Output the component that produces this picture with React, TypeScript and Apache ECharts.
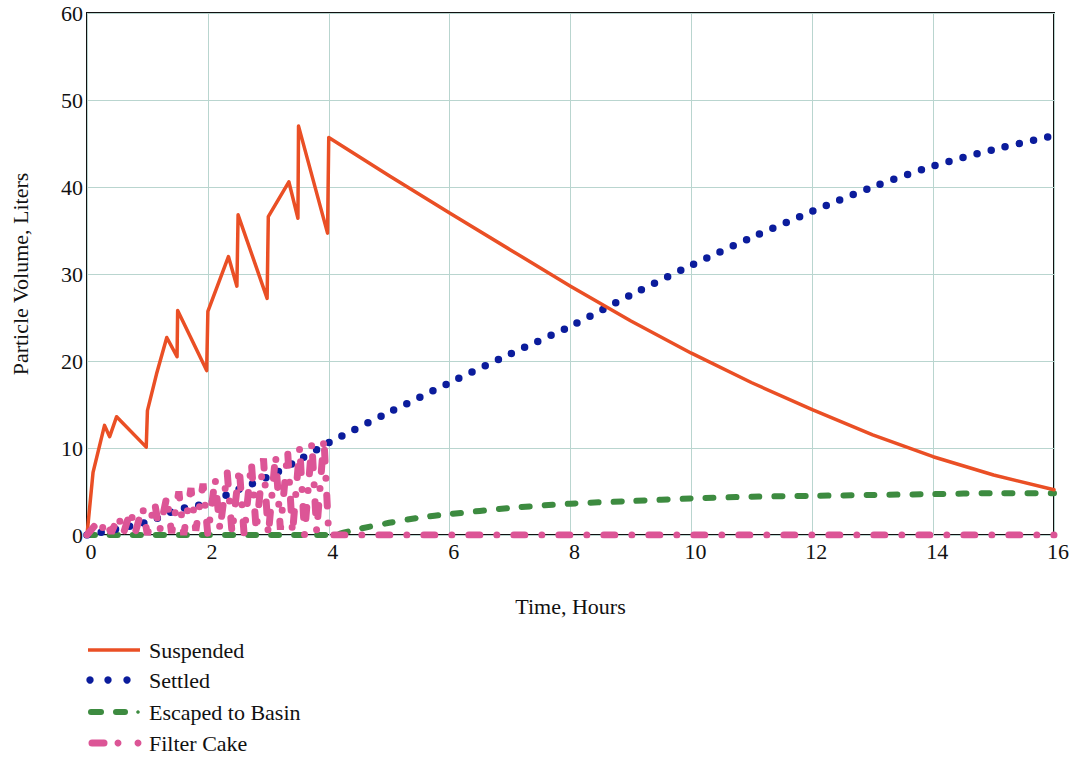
import React, { useEffect, useRef } from "react";
import * as echarts from "echarts";

// ---- data ----
const xTicks = [0, 2, 4, 6, 8, 10, 12, 14, 16];
const yTicks = [0, 10, 20, 30, 40, 50, 60];

const suspendedT = [0, 0.1, 0.29, 0.375, 0.49, 0.98, 1.0, 1.15, 1.32, 1.49, 1.5, 1.98, 2.0, 2.34, 2.48, 2.5, 2.98, 3.0, 3.34, 3.49, 3.5, 3.98, 4.0, 5, 6, 7, 8, 9, 10, 11, 12, 13, 14, 15, 16];
const suspendedV = [0, 7.2, 12.6, 11.3, 13.6, 10.1, 14.3, 18.5, 22.7, 20.5, 25.8, 18.9, 25.7, 32.0, 28.6, 36.8, 27.2, 36.6, 40.6, 36.4, 47.0, 34.7, 45.7, 41.3, 37.0, 32.8, 28.6, 24.6, 20.9, 17.5, 14.4, 11.5, 9.0, 6.9, 5.2];

const settledT = [0, 0.5, 1, 1.5, 2, 2.5, 3, 3.5, 4, 5, 6, 7, 8, 9, 10, 11, 12, 13, 14, 15, 16];
const settledV = [0, 0.7, 1.5, 2.9, 3.7, 5.2, 6.7, 8.6, 10.6, 14.1, 17.5, 20.8, 24.0, 27.6, 31.0, 34.2, 37.2, 40.0, 42.4, 44.3, 45.9];

const escapedT = [0, 4.0, 4.5, 5, 5.5, 6, 7, 8, 9, 10, 11, 12, 13, 14, 15, 16];
const escapedV = [0, 0, 0.7, 1.4, 2.0, 2.4, 3.1, 3.6, 3.9, 4.2, 4.4, 4.5, 4.6, 4.7, 4.8, 4.8];

const filterT = [0, 0.12, 0.2, 0.32, 0.4, 0.52, 0.6, 0.72, 0.8, 0.92, 1.0, 1.12, 1.2, 1.32, 1.4, 1.52, 1.6, 1.72, 1.8, 1.92, 2.0, 2.12, 2.2, 2.32, 2.4, 2.52, 2.6, 2.72, 2.8, 2.92, 3.0, 3.12, 3.2, 3.32, 3.4, 3.52, 3.6, 3.72, 3.8, 3.92, 4.0, 16];
const filterV = [0, 1.0, 0.1, 1.6, 0.2, 2.2, 0.1, 2.8, 0.3, 3.2, 0, 3.7, 0.4, 4.4, 0.2, 5.0, 0, 5.4, 0.5, 5.9, 0, 6.5, 0.6, 7.2, 0.2, 7.7, 0, 8.3, 0.5, 8.8, 0, 9.2, 0.6, 9.6, 0.2, 10.1, 0, 10.6, 0.4, 11.1, 0, 0];

const seriesNames = ["Suspended", "Settled", "Escaped to Basin", "Filter Cake"];
const xTitle = "Time, Hours";
const yTitle = "Particle Volume, Liters";

const pairs = (t: number[], v: number[]) => t.map((x, i) => [x, v[i]]);

const FONT = "'Liberation Serif', 'Times New Roman', serif";
const C_ORANGE = "#ea4f25";
const C_BLUE = "#0b1c9c";
const C_GREEN = "#3d8b40";
const C_PINK = "#dc5596";

export default function App() {
  const ref = useRef<HTMLDivElement>(null);

  useEffect(() => {
    if (!ref.current) return;
    const chart = echarts.init(ref.current, null, { renderer: "svg" });

    const legendRows = [650, 680, 712, 743];
    const legendText = seriesNames.map((n, i) => ({
      type: "text",
      x: 149,
      y: legendRows[i],
      style: { text: n, fontFamily: FONT, fontSize: 22, fill: "#111", verticalAlign: "middle" },
    }));

    const option: any = {
      animation: false,
      backgroundColor: "#fff",
      textStyle: { fontFamily: FONT },
      grid: {
        left: 87,
        right: 25,
        top: 13,
        bottom: 224,
        show: true,
        borderColor: "#111",
        borderWidth: 2,
        backgroundColor: "transparent",
      },
      xAxis: {
        type: "value",
        min: xTicks[0],
        max: xTicks[xTicks.length - 1],
        interval: 2,
        name: xTitle,
        nameLocation: "middle",
        nameGap: 60,
        nameTextStyle: { fontFamily: FONT, fontSize: 22, color: "#111" },
        axisLine: { show: false },
        axisTick: { show: false },
        axisLabel: { fontFamily: FONT, fontSize: 22, color: "#111", margin: 5, padding: [0, 0, 0, 8] },
        splitLine: { show: true, lineStyle: { color: "#b9d5cf", width: 1 } },
      },
      yAxis: {
        type: "value",
        min: yTicks[0],
        max: yTicks[yTicks.length - 1],
        interval: 10,
        name: yTitle,
        nameLocation: "middle",
        nameGap: 56,
        nameTextStyle: { fontFamily: FONT, fontSize: 22, color: "#111" },
        axisLine: { show: false },
        axisTick: { show: false },
        axisLabel: { fontFamily: FONT, fontSize: 22, color: "#111", margin: 4 },
        splitLine: { show: true, lineStyle: { color: "#b9d5cf", width: 1 } },
      },
      series: [
        {
          name: seriesNames[0],
          type: "line",
          data: pairs(suspendedT, suspendedV),
          showSymbol: false,
          lineStyle: { color: C_ORANGE, width: 3.5, cap: "round", join: "round" },
          z: 5,
        },
        {
          name: seriesNames[1],
          type: "line",
          data: pairs(settledT, settledV),
          showSymbol: false,
          smooth: 0.3,
          lineStyle: { color: C_BLUE, width: 7.5, type: [0, 14.5], cap: "round" },
          z: 4,
        },
        {
          name: seriesNames[2],
          type: "line",
          data: pairs(escapedT, escapedV),
          showSymbol: false,
          smooth: 0.3,
          lineStyle: { color: C_GREEN, width: 6, type: [8, 15], cap: "round" },
          z: 3,
        },
        {
          name: seriesNames[3],
          type: "line",
          data: pairs(filterT, filterV),
          showSymbol: false,
          lineStyle: { color: C_PINK, width: 7, type: [11, 17, 0, 17], cap: "round" },
          z: 6,
        },
      ],
      graphic: [
        { type: "line", shape: { x1: 88, y1: 650, x2: 140, y2: 650 }, style: { stroke: C_ORANGE, lineWidth: 3.5 } },
        { type: "circle", shape: { cx: 90, cy: 680, r: 3.7 }, style: { fill: C_BLUE } },
        { type: "circle", shape: { cx: 108, cy: 680, r: 3.7 }, style: { fill: C_BLUE } },
        { type: "circle", shape: { cx: 127, cy: 680, r: 3.7 }, style: { fill: C_BLUE } },
        { type: "line", shape: { x1: 91, y1: 712, x2: 101, y2: 712 }, style: { stroke: C_GREEN, lineWidth: 6, lineCap: "round" } },
        { type: "line", shape: { x1: 116, y1: 712, x2: 125, y2: 712 }, style: { stroke: C_GREEN, lineWidth: 6, lineCap: "round" } },
        { type: "circle", shape: { cx: 138, cy: 712, r: 1.8 }, style: { fill: C_GREEN } },
        { type: "line", shape: { x1: 92, y1: 743, x2: 104, y2: 743 }, style: { stroke: C_PINK, lineWidth: 7, lineCap: "round" } },
        { type: "circle", shape: { cx: 118, cy: 743, r: 3.5 }, style: { fill: C_PINK } },
        { type: "circle", shape: { cx: 138, cy: 743, r: 3.5 }, style: { fill: C_PINK } },
        ...legendText,
      ],
    };

    chart.setOption(option);
    return () => chart.dispose();
  }, []);

  return (
    <div
      ref={ref}
      style={{ position: "absolute", left: 0, top: 0, width: 1079, height: 759, background: "#fff" }}
    />
  );
}
